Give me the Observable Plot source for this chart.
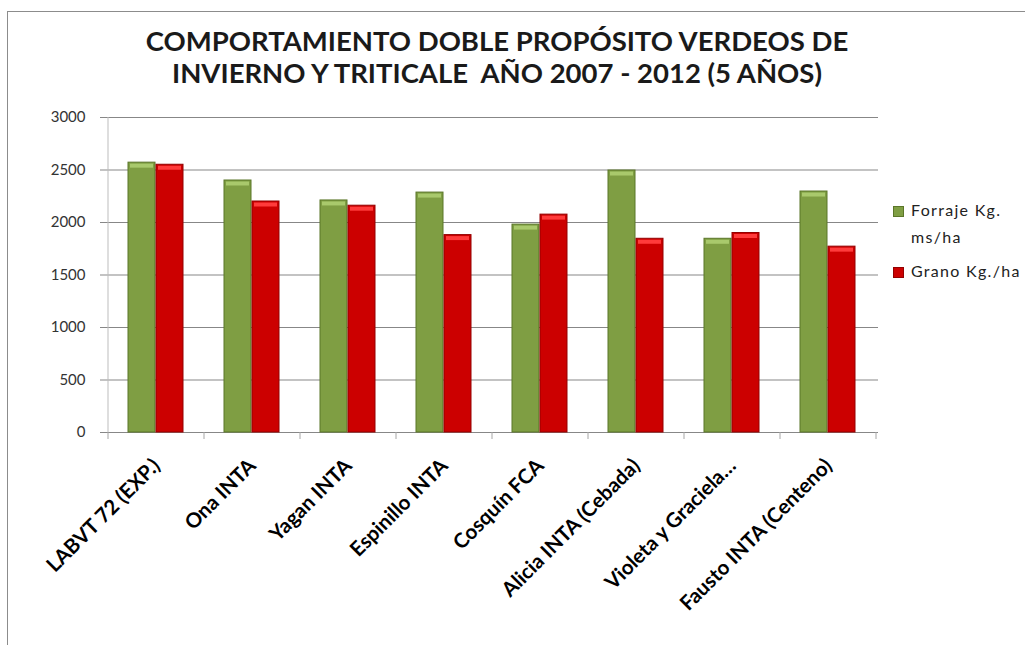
<!DOCTYPE html>
<html>
<head>
<meta charset="utf-8">
<script src="https://cdn.jsdelivr.net/npm/d3@7"></script>
<script src="https://cdn.jsdelivr.net/npm/@observablehq/plot@0.6"></script>
<style>
  html, body { margin: 0; padding: 0; background: #fff; }
  #wrap { position: relative; width: 1025px; height: 645px; overflow: hidden; background: #fff; font-family: Lato, sans-serif; }
  #border { position: absolute; left: 7px; top: 11px; width: 1100px; height: 800px; border: 1px solid #8c8c8c; box-sizing: border-box; }
  #title { position: absolute; left: 0; top: 25px; width: 994px; text-align: center; font-size: 27.5px; font-weight: 700; line-height: 32px; color: #1a1a1a; }
  #chart { position: absolute; left: 0; top: 100px; }
  .lg { position: absolute; font-size: 16px; letter-spacing: 1.3px; line-height: 18px; color: #222; white-space: nowrap; }
  .sw { position: absolute; width: 9px; height: 9px; }
</style>
</head>
<body>
<div id="wrap">
  <div id="border"></div>
  <div id="title"></div>
  <div id="chart"></div>
  <div id="legend"></div>
</div>
<script>
const titleLines = ["COMPORTAMIENTO DOBLE PROPÓSITO VERDEOS DE", "INVIERNO Y TRITICALE  AÑO 2007 - 2012 (5 AÑOS)"];
const categories = ["LABVT 72 (EXP.)", "Ona INTA", "Yagan INTA", "Espinillo INTA", "Cosquín FCA", "Alicia INTA (Cebada)", "Violeta y Graciela…", "Fausto INTA (Centeno)"];
const forraje = [2570, 2400, 2210, 2285, 1980, 2495, 1845, 2295];
const grano = [2550, 2200, 2160, 1880, 2075, 1845, 1900, 1770];
const yTicks = [0, 500, 1000, 1500, 2000, 2500, 3000];
const seriesNames = [["Forraje Kg.", "ms/ha"], ["Grano Kg./ha"]];
const seriesColors = ["#7f9e43", "#cc0000"];
const seriesEdges = ["#5b7629", "#940000"];
const seriesHighlights = ["#a9c96c", "#ff3b3b"];

const table = categories.map((c, i) => ({cat: c, forraje: forraje[i], grano: grano[i]}));

document.getElementById("title").innerHTML = titleLines.map(t => `<div style="white-space:pre">${t}</div>`).join("");

const plot = Plot.plot({
  width: 1025,
  height: 545,
  marginTop: 17,
  marginBottom: 213,
  marginLeft: 106,
  marginRight: 147,
  style: {fontFamily: "Lato, sans-serif", background: "transparent", overflow: "visible"},
  x: {domain: categories, padding: 0, label: null},
  y: {domain: [0, 3000], label: null},
  marks: [
    Plot.ruleY(yTicks, {stroke: "#878787", insetLeft: -6}),
    Plot.barY(table, {x: "cat", y: "forraje", fill: seriesColors[0], stroke: seriesEdges[0], strokeWidth: 1, insetLeft: 20, insetRight: 49}),
    Plot.barY(table, {x: "cat", y: "grano", fill: seriesColors[1], stroke: seriesEdges[1], strokeWidth: 1, insetLeft: 48, insetRight: 21}),
    Plot.tickY(table, {x: "cat", y: "forraje", stroke: seriesHighlights[0], strokeWidth: 4, dy: 3, insetLeft: 22, insetRight: 51}),
    Plot.tickY(table, {x: "cat", y: "grano", stroke: seriesHighlights[1], strokeWidth: 4, dy: 3, insetLeft: 50, insetRight: 23}),
    Plot.axisY({ticks: yTicks, tickFormat: d => String(d), tickSize: 0, tickPadding: 21, fontSize: 15, fill: "#333", label: null, style: {letterSpacing: "1.5px"}}),
    Plot.axisX({tickSize: 0, tickPadding: 30, tickRotate: -45, fontSize: 20.5, fontWeight: "bold", fill: "#000", dx: 0, label: null, style: {letterSpacing: "1px"}})
  ]
});

// category boundary ticks and left axis line, placed from Plot's own scales
const xs = plot.scale("x"), ys = plot.scale("y");
const bounds = categories.map(c => xs.apply(c));
bounds.push(xs.apply(categories[categories.length - 1]) + xs.bandwidth);
const y0 = ys.apply(0), yTop = ys.apply(3000);
const g = d3.select(plot).append("g");
g.selectAll("line.ct").data(bounds).join("line")
  .attr("x1", d => d).attr("x2", d => d).attr("y1", y0).attr("y2", y0 + 7)
  .attr("stroke", "#a6a6a6");
g.append("line").attr("x1", bounds[0]).attr("x2", bounds[0]).attr("y1", yTop).attr("y2", y0).attr("stroke", "#bdbdbd");

document.getElementById("chart").appendChild(plot);

// legend
const legend = document.getElementById("legend");
const lgTops = [206, 267];
seriesNames.forEach((lines, i) => {
  const sw = document.createElement("div");
  sw.className = "sw";
  sw.style.left = "893px"; sw.style.top = lgTops[i] + "px";
  sw.style.background = seriesColors[i]; sw.style.border = "1px solid " + seriesEdges[i];
  legend.appendChild(sw);
  lines.forEach((t, j) => {
    const d = document.createElement("div");
    d.className = "lg";
    d.style.left = "911px"; d.style.top = (lgTops[i] - 5 + j * 27) + "px";
    d.textContent = t;
    legend.appendChild(d);
  });
});
</script>
</body>
</html>
